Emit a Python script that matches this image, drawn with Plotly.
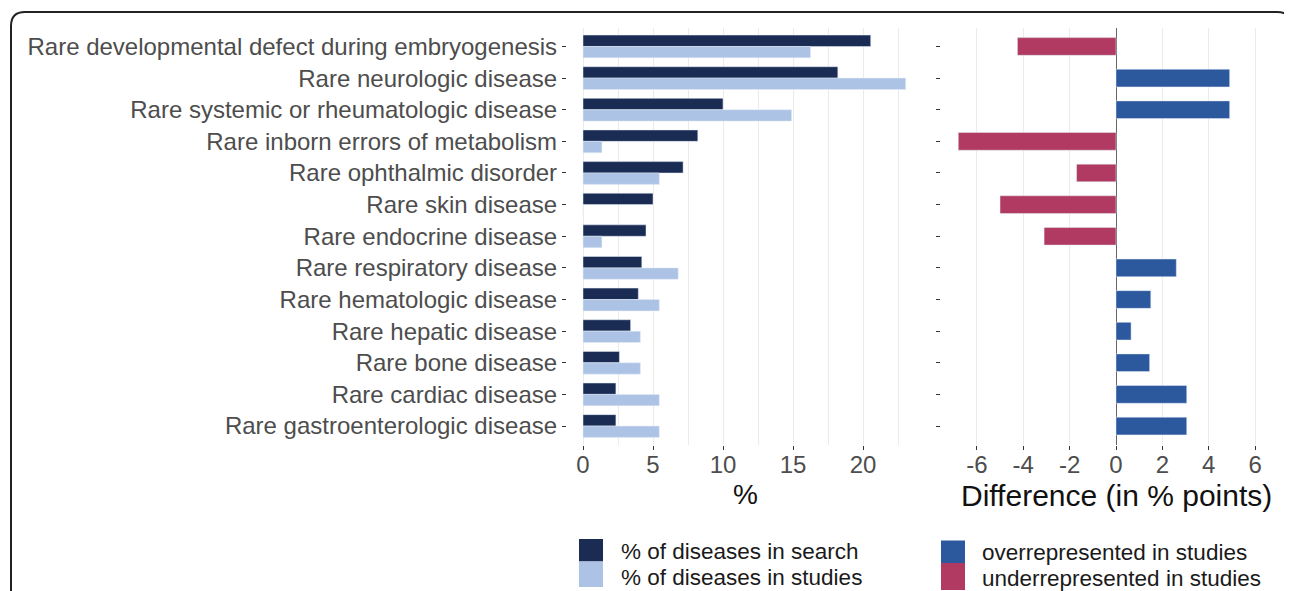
import plotly.graph_objects as go

categories = [
    "Rare developmental defect during embryogenesis",
    "Rare neurologic disease",
    "Rare systemic or rheumatologic disease",
    "Rare inborn errors of metabolism",
    "Rare ophthalmic disorder",
    "Rare skin disease",
    "Rare endocrine disease",
    "Rare respiratory disease",
    "Rare hematologic disease",
    "Rare hepatic disease",
    "Rare bone disease",
    "Rare cardiac disease",
    "Rare gastroenterologic disease",
]
pct_search = [20.55, 18.2, 10.0, 8.2, 7.15, 5.0, 4.5, 4.2, 3.95, 3.4, 2.6, 2.35, 2.35]
pct_studies = [16.25, 23.05, 14.9, 1.35, 5.45, 0.0, 1.35, 6.8, 5.45, 4.1, 4.1, 5.45, 5.45]
difference = [-4.25, 4.9, 4.9, -6.8, -1.7, -5.0, -3.1, 2.6, 1.5, 0.65, 1.45, 3.05, 3.05]

left_ticks = [0, 5, 10, 15, 20]
left_ticktext = ["0", "5", "10", "15", "20"]
right_ticks = [-6, -4, -2, 0, 2, 4, 6]
right_ticktext = ["-6", "-4", "-2", "0", "2", "4", "6"]

C_SEARCH = "#1a2c54"
C_STUDIES = "#adc3e6"
C_OVER = "#2c589e"
C_UNDER = "#b03a62"
GRID = "#ebebeb"
FONT = "Liberation Sans, Arial, sans-serif"

# page body has an 8px margin: size the figure so it ends at the window edge,
# and express layout positions in window pixels
OFF = 8
W, H = 1292 - OFF, 591 - OFF

def px_x(x):
    return (x - OFF) / W

def px_y(y):
    return 1 - (y - OFF) / H

fig = go.Figure()
fig.add_trace(go.Bar(y=categories, x=pct_search, orientation="h", marker_color=C_SEARCH,
                     width=0.36, offset=-0.36, xaxis="x", yaxis="y", showlegend=False,
                     name="% of diseases in search"))
fig.add_trace(go.Bar(y=categories, x=pct_studies, orientation="h", marker_color=C_STUDIES,
                     width=0.36, offset=0.0, xaxis="x", yaxis="y", showlegend=False,
                     name="% of diseases in studies"))
diff_colors = [C_OVER if d >= 0 else C_UNDER for d in difference]
fig.add_trace(go.Bar(y=categories, x=difference, orientation="h", marker_color=diff_colors,
                     width=0.56, offset=-0.28, xaxis="x2", yaxis="y2", showlegend=False,
                     name="Difference"))

ydom = [px_y(445), px_y(27.5)]
yrange = [len(categories) - 1 + 0.6, -0.6]

common_tick = dict(ticks="outside", ticklen=4, tickcolor="#333333", tickwidth=1)

fig.update_layout(
    width=W, height=H,
    margin=dict(l=0, r=0, t=0, b=0),
    paper_bgcolor="white", plot_bgcolor="white",
    barmode="group",
    font=dict(family=FONT, color="#4d4d4d"),
    xaxis=dict(domain=[px_x(566.9), px_x(922.1)], range=[-1.15, 24.22],
               tickvals=left_ticks, ticktext=left_ticktext,
               showgrid=True, gridcolor=GRID, gridwidth=1.2,
               minor=dict(tickvals=[2.5, 7.5, 12.5, 17.5, 22.5], showgrid=True, gridcolor=GRID, gridwidth=1),
               zeroline=False, showline=False, anchor="y",
               tickfont=dict(size=24, color="#4d4d4d"), ticklabelstandoff=-6, automargin=False,
               **common_tick),
    yaxis=dict(domain=ydom, type="category", categoryarray=categories, range=yrange,
               showgrid=False, zeroline=False, showline=False, anchor="x",
               tickfont=dict(size=24, color="#4d4d4d"), ticklabelstandoff=0, automargin=False,
               **common_tick),
    xaxis2=dict(domain=[px_x(941.1), px_x(1290.9)], range=[-7.54, 7.54],
                tickvals=right_ticks, ticktext=right_ticktext,
                showgrid=True, gridcolor=GRID, gridwidth=1.2,
                zeroline=True, zerolinecolor="#666666", zerolinewidth=1.2,
                showline=False, anchor="y2",
                tickfont=dict(size=24, color="#4d4d4d"), ticklabelstandoff=-6, automargin=False,
                **common_tick),
    yaxis2=dict(domain=ydom, type="category", categoryarray=categories, range=yrange,
                showgrid=False, zeroline=False, showline=False, anchor="x2",
                showticklabels=False, automargin=False, **common_tick),
)

annotations = [
    dict(text="%", x=px_x(745), y=px_y(494), xref="paper", yref="paper",
         xanchor="center", yanchor="middle", showarrow=False,
         font=dict(size=28, color="#111111", family=FONT)),
    dict(text="Difference (in % points)", x=px_x(1116), y=px_y(495), xref="paper", yref="paper",
         xanchor="center", yanchor="middle", showarrow=False,
         font=dict(size=30, color="#111111", family=FONT)),
]
legend_items = [
    (579, 539, 561.5, C_SEARCH, "% of diseases in search", 619, 551),
    (579, 561.5, 587, C_STUDIES, "% of diseases in studies", 619, 577),
    (941, 540.5, 563, C_OVER, "overrepresented in studies", 980, 552),
    (941, 563, 590, C_UNDER, "underrepresented in studies", 980, 578),
]
shapes = []
for x0, y0, y1, col, label, tx, ty in legend_items:
    shapes.append(dict(type="rect", xref="paper", yref="paper",
                       x0=px_x(x0), x1=px_x(x0 + 24), y0=px_y(y1), y1=px_y(y0),
                       fillcolor=col, line=dict(width=0)))
    annotations.append(dict(text=label, x=px_x(tx), y=px_y(ty), xref="paper", yref="paper",
                            xanchor="left", yanchor="middle", showarrow=False,
                            font=dict(size=22.5, color="#1a1a1a", family=FONT)))

# rounded outer frame
r = 14
l, t, rr, b = 11, 12, 1291, 640
path = (f"M {px_x(l)},{px_y(b)} L {px_x(l)},{px_y(t + r)} "
        f"Q {px_x(l)},{px_y(t)} {px_x(l + r)},{px_y(t)} "
        f"L {px_x(rr - r)},{px_y(t)} Q {px_x(rr)},{px_y(t)} {px_x(rr)},{px_y(t + r)} "
        f"L {px_x(rr)},{px_y(b)}")
shapes.append(dict(type="path", xref="paper", yref="paper", path=path,
                   line=dict(color="#222222", width=2)))

fig.update_layout(annotations=annotations, shapes=shapes)
fig.write_html("out.html")
